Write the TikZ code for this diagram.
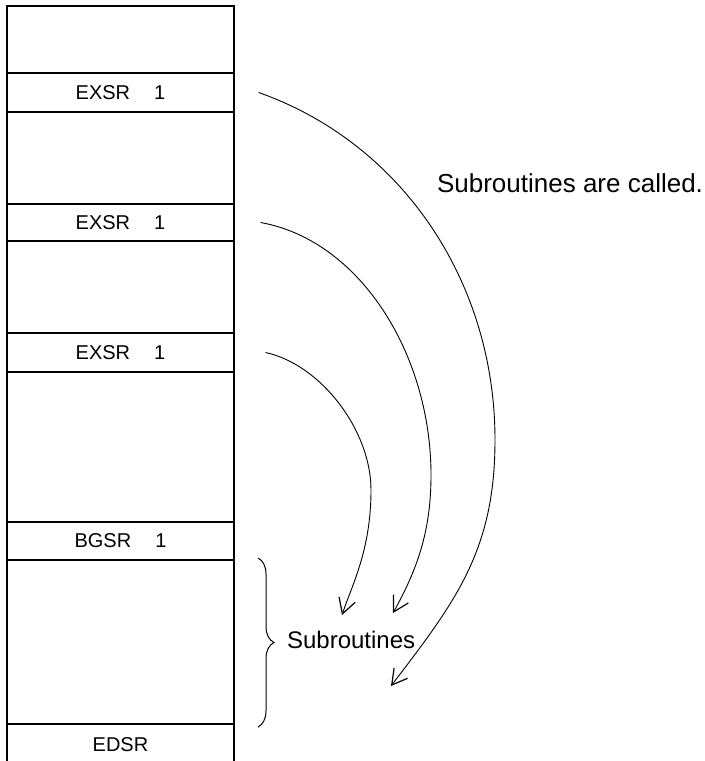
\documentclass[tikz,border=0pt]{standalone}
\usepackage{fontspec}
\setmainfont{Liberation Sans}
\usetikzlibrary{arrows.meta, calc, decorations.pathreplacing}

\tikzset{
  rowbox/.style={draw, line width=0.6pt, minimum width=113.5pt, inner sep=0pt,
    font=\fontsize{10}{12}\selectfont},
  callarc/.style={line width=0.45pt,
    -{Straight Barb[length=7.5pt, width=8.5pt, line width=0.6pt]}},
}

\begin{document}
\begin{tikzpicture}[x=0.5pt, y=-0.5pt]
    \useasboundingbox (0,0) rectangle (705,761);
    % program column
    \draw[line width=0.6pt] (7,761) -- (7,6) -- (234,6) -- (234,761);
    \node[rowbox, minimum height=19.5pt] (exsrA) at (120.5,92.5) {EXSR\hspace{1.2em}1};
    \node[rowbox, minimum height=18.5pt] (exsrB) at (120.5,222.5) {EXSR\hspace{1.2em}1};
    \node[rowbox, minimum height=19.5pt] (exsrC) at (120.5,352.5) {EXSR\hspace{1.2em}1};
    \node[rowbox, minimum height=19pt] (bgsr) at (120.5,541) {BGSR\hspace{1.2em}1};
    \node[font=\fontsize{10}{12}\selectfont] (edsr) at (120.5,745) {EDSR};
    \draw[line width=0.6pt] (7,724) -- (234,724);
    % calls
    \coordinate (callA) at ([xshift=12pt]exsrA.east);
    \coordinate (callB) at ([xshift=13pt]exsrB.east);
    \coordinate (callC) at ([xshift=15.5pt]exsrC.east);
    \coordinate (bendA) at (495,440);
    \coordinate (bendB) at (431,475);
    \coordinate (bendC) at (371,490);
    \coordinate (subA) at (391,686);
    \coordinate (subB) at (393,613);
    \coordinate (subC) at (342,615);
    \draw[callarc] (callA) .. controls +(142,50) and +(0,-160) .. (bendA)
        .. controls +(0,110) and +(65,-85) .. (subA);
    \draw[callarc] (callB) .. controls +(100,18) and +(0,-120) .. (bendB)
        .. controls +(0,55) and +(25,-45) .. (subB);
    \draw[callarc] (callC) .. controls +(55,12) and +(0,-60) .. (bendC)
        .. controls +(0,60) and +(10,-30) .. (subC);
    \node[anchor=west, font=\fontsize{13}{15}\selectfont] (called) at (430,183) {Subroutines are called.};
    % subroutine range
    \draw[line width=0.5pt, decorate, decoration={brace, amplitude=8pt}]
        (258,558) -- (258,727);
    \node[anchor=west, font=\fontsize{12}{14}\selectfont] (subs) at (280,640) {Subroutines};
\end{tikzpicture}
\end{document}
